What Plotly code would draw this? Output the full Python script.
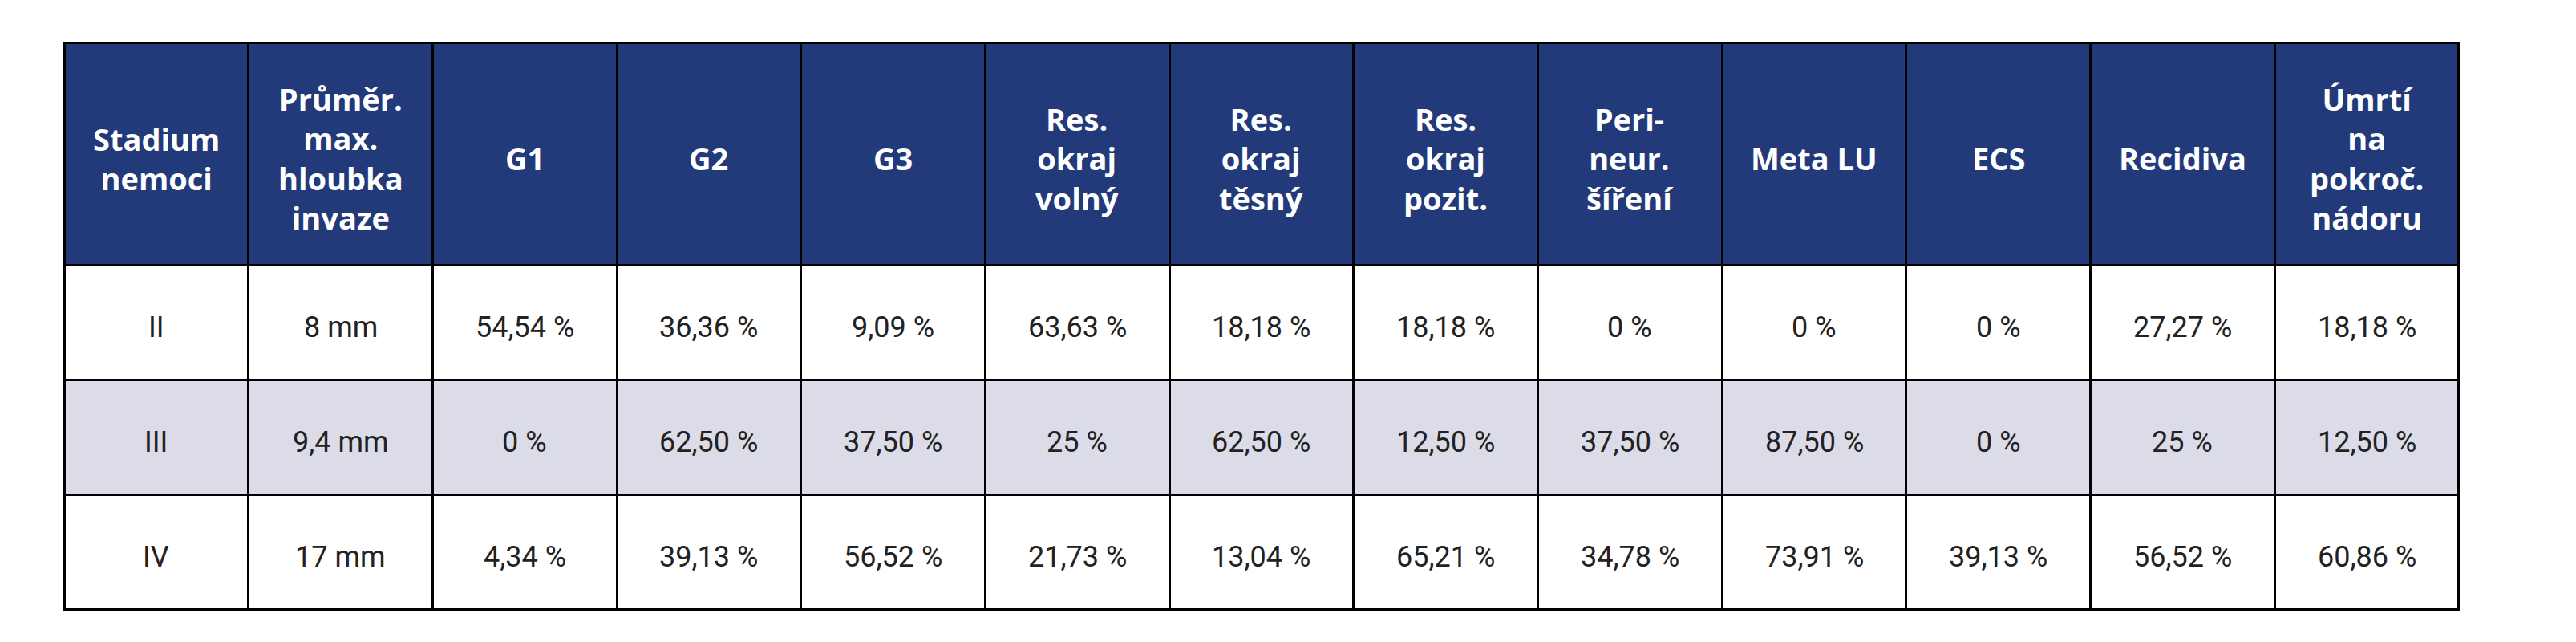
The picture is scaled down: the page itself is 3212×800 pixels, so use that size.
import plotly.graph_objects as go

headers = ["Stadium<br>nemoci", "Průměr.<br>max.<br>hloubka<br>invaze", "G1", "G2", "G3",
           "Res.<br>okraj<br>volný", "Res.<br>okraj<br>těsný", "Res.<br>okraj<br>pozit.",
           "Peri-<br>neur.<br>šíření", "Meta LU", "ECS", "Recidiva",
           "Úmrtí<br>na<br>pokroč.<br>nádoru"]
stadium = ["II", "III", "IV"]
hloubka = ["8 mm", "9,4 mm", "17 mm"]
g1 = ["54,54 %", "0 %", "4,34 %"]
g2 = ["36,36 %", "62,50 %", "39,13 %"]
g3 = ["9,09 %", "37,50 %", "56,52 %"]
volny = ["63,63 %", "25 %", "21,73 %"]
tesny = ["18,18 %", "62,50 %", "13,04 %"]
pozit = ["18,18 %", "12,50 %", "65,21 %"]
perineur = ["0 %", "37,50 %", "34,78 %"]
meta_lu = ["0 %", "87,50 %", "73,91 %"]
ecs = ["0 %", "0 %", "39,13 %"]
recidiva = ["27,27 %", "25 %", "56,52 %"]
umrti = ["18,18 %", "12,50 %", "60,86 %"]

columns = [stadium, hloubka, g1, g2, g3, volny, tesny, pozit, perineur, meta_lu, ecs, recidiva, umrti]
row_colors = ["#FFFFFF", "#DCDCE9", "#FFFFFF"]

W, H = 3212, 800
x0, x1 = 72 / W, 3058 / W
top_px, head_h, row_h = 51, 277, 143
ncol = len(headers)
colw = (x1 - x0) / ncol

blank = [[""] * 3 for _ in columns]
fig = go.Figure(go.Table(
    domain=dict(x=[x0, x1], y=[0, 1 - (top_px - 6) / H]),
    columnwidth=[1] * ncol,
    header=dict(values=[""] * ncol, fill_color="#233A7A",
                line=dict(color="black", width=3), height=head_h),
    cells=dict(values=blank, fill_color=[row_colors] * ncol,
               line=dict(color="black", width=3), height=row_h)
))

annotations = []
for i, h in enumerate(headers):
    xc = x0 + (i + 0.5) * colw
    annotations.append(dict(x=xc, y=1 - (top_px + head_h / 2) / H, xref="paper", yref="paper",
                            text="<b>%s</b>" % h, showarrow=False, xanchor="center", yanchor="middle",
                            font=dict(family="Open Sans", size=38, color="white")))
    for r, v in enumerate(columns[i]):
        yc = 1 - (top_px + head_h + (r + 0.5) * row_h) / H
        annotations.append(dict(x=xc, y=yc, xref="paper", yref="paper", text=v, showarrow=False,
                                xanchor="center", yanchor="middle",
                                font=dict(family="Liberation Sans Narrow, Roboto", size=36, color="#222222")))

fig.update_layout(width=W, height=H, margin=dict(l=0, r=0, t=0, b=0),
                  paper_bgcolor="white", annotations=annotations)
fig.write_html("out.html")
